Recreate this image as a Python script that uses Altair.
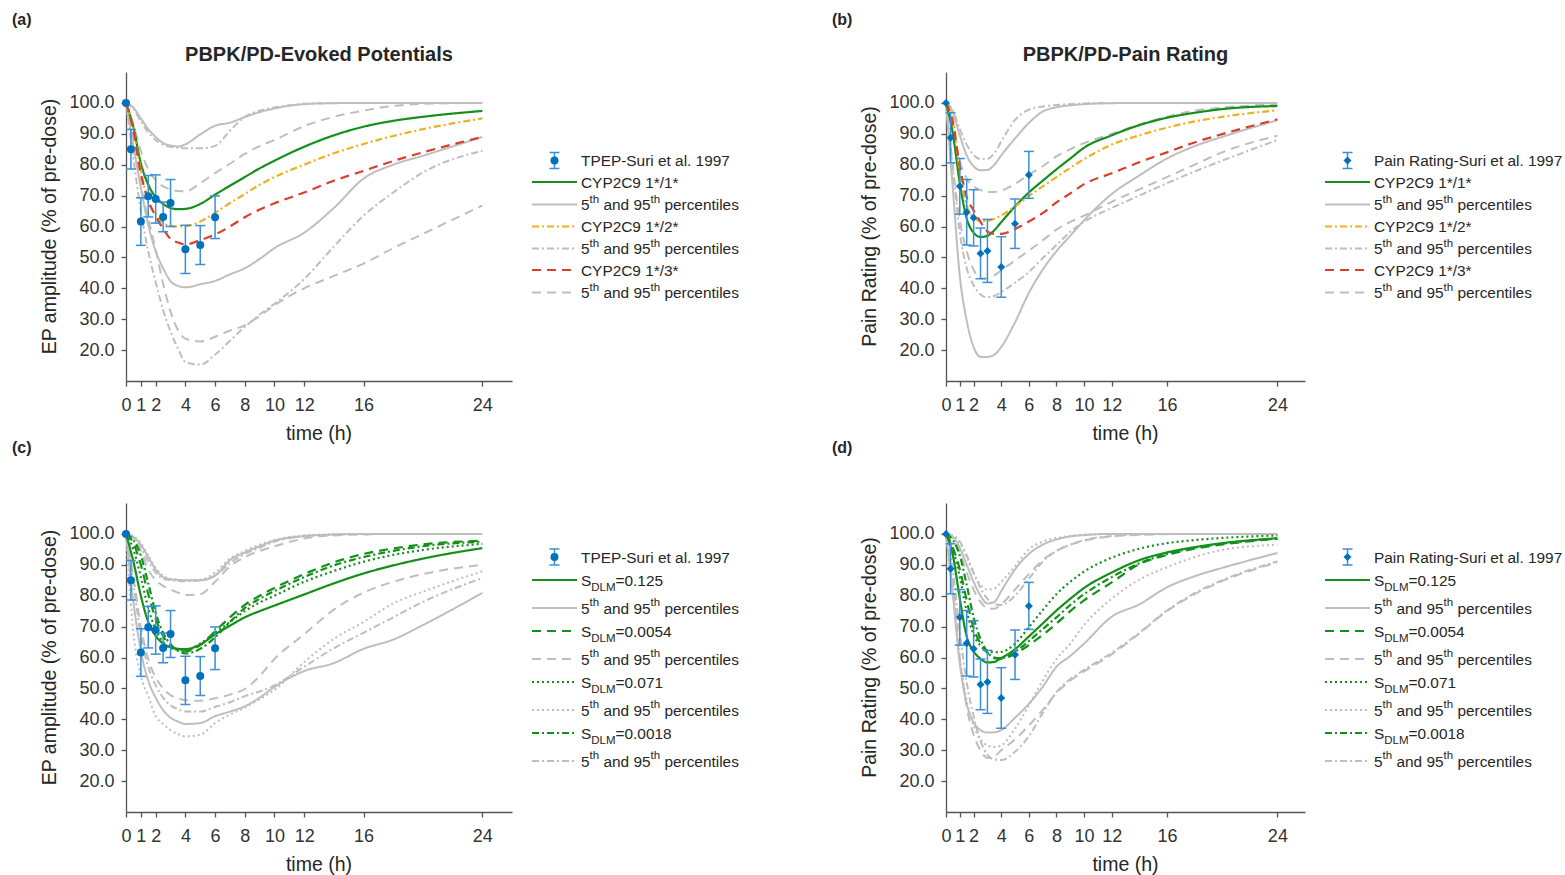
import altair as alt
import pandas as pd

FONT = "Liberation Sans"
GREEN = "#14901a"
YELLOW = "#EDB120"
RED = "#D6402D"
BLUE = "#0072BD"
EBLUE = "#3b8fd8"
GRAY = "#BEBEBE"
AXC = "#555555"
TXT = "#262626"

# ---------------- data ----------------
T = [0, 0.5, 1, 1.5, 2, 2.5, 3, 3.5, 4, 5, 6, 7, 8, 9, 10, 12, 14, 16, 18, 20, 24]

# (a) EP amplitude, CYP2C9 genotypes
a_wt = [100, 92, 80.5, 73.5, 69.5, 67.3, 66, 65.6, 65.7, 67.3, 70.3, 73.2, 76, 78.8, 81.3, 85.8, 89.5, 92.3, 94.2, 95.5, 97.4]
a_wt_hi = [100, 98.5, 95, 91.5, 89, 87, 86.2, 85.9, 86.6, 89.8, 92.6, 93.6, 95.4, 97, 98.2, 99.6, 99.9, 100, 100, 100, 100]
a_wt_lo = [100, 86, 72.5, 60.5, 52, 46.5, 42.3, 40.8, 40.3, 41.3, 42.4, 44.5, 46.5, 49.5, 53, 58, 66, 75.5, 80, 82.9, 89]
a_v2 = [100, 91, 78, 68, 64, 61.2, 60.2, 60, 60.1, 61.6, 64.4, 67.6, 70.5, 73.5, 76, 80, 83.7, 86.7, 89.3, 91.5, 95]
a_v2_hi = [100, 98, 94, 90.5, 88, 86.5, 85.8, 85.5, 85.3, 85.3, 86.1, 91, 95.5, 97.5, 98.5, 99.7, 100, 100, 100, 100, 100]
a_v2_lo = [100, 82, 65, 52, 42, 33, 26, 20.5, 16.2, 15.3, 18.5, 23, 27.5, 31.5, 35, 43, 53.5, 63.5, 71, 77.5, 84.5]
a_v3 = [100, 91, 77, 68.5, 63.3, 59.3, 56, 54.8, 54.2, 55.6, 57.4, 60, 63, 65.5, 67.5, 71, 74.8, 78, 81.2, 84, 89]
a_v3_hi = [100, 93, 84.5, 78.5, 75, 73, 72, 71.5, 71.4, 74, 77.3, 80.3, 83.5, 86, 88, 92.5, 95.5, 97.5, 99, 99.7, 100]
a_v3_lo = [100, 89, 73.5, 62.5, 52.6, 41.5, 32.5, 26.5, 23.7, 22.8, 24.3, 26.3, 28, 31, 34.5, 40, 44, 48, 53, 57.6, 66.8]

# (b) pain rating, CYP2C9 genotypes
b_wt = [100, 90, 74, 62.6, 58, 56.6, 57, 58.8, 61.4, 66.5, 71, 74.8, 78.5, 82, 85.5, 89.5, 92.8, 95.2, 96.8, 98, 99]
b_wt_hi = [100, 97, 89.5, 83, 79.5, 78.2, 78.3, 80, 83, 88.5, 93.5, 97.2, 98.6, 99.2, 99.6, 99.9, 100, 100, 100, 100, 100]
b_wt_lo = [100, 72, 44, 29.5, 21, 17.8, 17.8, 18.5, 21, 29, 38.5, 46, 52, 57, 62, 70.5, 76.5, 82, 86, 89, 94.4]
b_v2 = [100, 95, 77.5, 66.8, 63, 61.8, 61.8, 62.5, 63.6, 66.5, 69.8, 73, 76, 79, 81.8, 86.5, 89.5, 92, 94, 95.5, 97.6]
b_v2_hi = [100, 97.5, 91.5, 86.5, 83.2, 81.8, 81.9, 83.7, 87.5, 94.5, 97.8, 98.8, 99.3, 99.6, 99.8, 100, 100, 100, 100, 100, 100]
b_v2_lo = [100, 79, 58, 46.5, 41, 38, 37.1, 37.5, 38.8, 41.8, 45.3, 49.7, 54, 58.3, 61.5, 66, 70, 74, 77.8, 81.3, 88]
b_v3 = [100, 93.5, 79.5, 69.5, 65.2, 61.5, 58.4, 57.6, 57.6, 59.2, 61.6, 64.3, 67.8, 70.7, 73.7, 77.2, 80.8, 84, 87.2, 89.9, 94.7]
b_v3_hi = [100, 91, 81, 75.5, 73, 71.8, 71.2, 71.2, 71.6, 73.8, 76.8, 79.5, 82.7, 85, 87, 90, 93, 95.5, 97.5, 98.5, 99.5]
b_v3_lo = [100, 79, 62, 52, 46, 43.2, 43.2, 44.2, 45.8, 49, 52.2, 55.5, 59, 61.5, 63.5, 68, 72, 76, 80, 84, 89.4]

# (c) EP amplitude, S_DLM scenarios
c_s1 = [100, 91, 80, 71.5, 67, 64.5, 63.3, 62.8, 62.7, 64.2, 67.5, 70.3, 73, 75, 76.8, 80.4, 84, 87.2, 89.8, 92, 95.4]
c_s1_hi = [100, 99, 96.5, 92.5, 88.5, 86, 85.3, 85.1, 85, 85, 86.5, 91.5, 94, 96, 97.8, 99.3, 99.8, 100, 100, 100, 100]
c_s1_lo = [100, 78, 62, 52.5, 47, 43, 40.5, 39.3, 38.5, 38.8, 41, 42.5, 44.2, 47, 50.5, 55.6, 58.2, 62.8, 65.8, 70.5, 80.9]
c_s2 = [100, 97, 90, 80.5, 72.5, 67, 63.8, 62.5, 62, 64, 68.5, 73, 77, 80, 82.5, 87, 90.8, 93.5, 95.3, 96.6, 97.8]
c_s2_hi = [100, 98.5, 94.5, 88.5, 85, 83.2, 82, 81, 80.2, 80.5, 84.5, 89.5, 92.5, 94.5, 96, 98.5, 99.5, 99.8, 100, 100, 100]
c_s2_lo = [100, 86, 70, 59.5, 53.5, 50, 47.8, 46.8, 46.2, 46, 46.8, 48, 49.8, 54, 59.5, 67.5, 75.5, 81, 84.5, 87, 90]
c_s3 = [100, 95, 86, 76, 69, 65, 63, 62.5, 62.3, 64.5, 68, 71.5, 75, 77.8, 80, 84.5, 88, 91, 93.2, 94.8, 96.8]
c_s3_hi = [100, 99.3, 97, 93, 89, 86.5, 85.5, 85.2, 85, 85.2, 87.5, 92, 94.5, 96.5, 98, 99.5, 99.9, 100, 100, 100, 100]
c_s3_lo = [100, 68, 54, 47.5, 41, 38.5, 36.5, 35.2, 34.5, 35, 38.8, 41.5, 43.8, 46.5, 49.5, 58.5, 66, 71.5, 77.5, 81.3, 87.9]
c_s4 = [100, 98, 93, 84, 74.5, 68, 64.3, 62.2, 61.3, 62.8, 66.5, 71.5, 76, 79, 81.5, 86, 89.8, 92.5, 94.5, 96, 97.5]
c_s4_hi = [100, 98.8, 95.5, 91, 87.5, 85.5, 85, 84.8, 84.7, 85, 86.5, 90.5, 93.5, 95.5, 97.5, 99.2, 99.8, 100, 100, 100, 100]
c_s4_lo = [100, 84, 67, 57, 51, 47, 44.5, 43.3, 42.5, 42.5, 44, 45.5, 47.5, 49, 51, 57, 63, 68, 73, 78, 85.7]

# (d) pain rating, S_DLM scenarios
d_s1 = [100, 93, 79, 66.8, 62, 59.6, 58.4, 58.6, 59.8, 62.7, 66.8, 71, 75.2, 79, 82.5, 87.5, 91.5, 94, 95.7, 97, 98.6]
d_s1_hi = [100, 99, 95.5, 90, 84.5, 80, 77.5, 78, 81.5, 88.5, 93.5, 96.5, 98.2, 99.2, 99.6, 100, 100, 100, 100, 100, 100]
d_s1_lo = [100, 80, 58, 45, 39, 36.5, 35.7, 35.8, 36.5, 40.5, 45, 50.5, 57, 60.5, 64.5, 73.2, 77.2, 82.7, 86.3, 89, 93.8]
d_s2 = [100, 95.5, 88.5, 78.5, 69.5, 64.5, 61.5, 59.8, 59.6, 61.2, 64, 67.3, 71, 75, 78.5, 84.3, 90.2, 93.2, 95.2, 96.6, 98.4]
d_s2_hi = [100, 98.5, 94, 87.5, 82, 78, 76, 75.8, 77.2, 82, 87, 91.5, 94.5, 96.5, 97.8, 99.2, 99.7, 99.9, 100, 100, 100]
d_s2_lo = [100, 84, 60, 44, 35, 30, 27.5, 28, 30, 33.5, 38, 43, 48.5, 52.5, 55.5, 61, 67.8, 75, 80.5, 84.7, 90.8]
d_s3 = [100, 95, 86, 75, 67.5, 63.8, 62.2, 61.7, 61.8, 64.5, 69.8, 75.3, 80.5, 84.5, 87.8, 92.3, 95.2, 97, 98, 98.7, 99.5]
d_s3_hi = [100, 99.5, 97, 92.5, 87, 83.5, 82, 82.3, 84.5, 89.5, 95, 97.5, 98.7, 99.3, 99.8, 100, 100, 100, 100, 100, 100]
d_s3_lo = [100, 82, 60, 46, 38, 33.5, 31.5, 31, 31.5, 37, 44.5, 52.5, 59.5, 64.5, 70.5, 79, 85.2, 89.2, 92.5, 94.8, 96.5]
d_s4 = [100, 98, 93, 83.5, 73, 66, 61.8, 60, 59.8, 61.8, 65.3, 69.2, 73, 77, 80.5, 86, 90.5, 93.5, 95.5, 96.8, 98.5]
d_s4_hi = [100, 99.5, 97.5, 93, 87.5, 82.5, 79, 77.2, 77, 80, 85.5, 91, 94.5, 96.5, 98, 99.3, 99.8, 100, 100, 100, 100]
d_s4_lo = [100, 88, 68, 52, 41, 33, 28.5, 27, 26.8, 29.5, 34.5, 42, 48.8, 53, 56, 61.5, 68, 75.2, 80.8, 85, 91.1]

# observed data (Suri et al. 1997)
obs_t = [0, 0.33, 1, 1.5, 2, 2.5, 3, 4, 5, 6]
ep_mean = [100, 85, 61.6, 69.8, 68.9, 63.1, 67.6, 52.6, 54, 63]
ep_err = [0, 6.4, 7.7, 6.7, 7.8, 4.8, 7.6, 7.8, 6.3, 6.9]
pain_mean = [100, 88.7, 73, 64.6, 62.8, 51.3, 52.1, 46.9, 60.9, 76.7]
pain_err = [0, 8.1, 9, 10.6, 9.1, 8.2, 10.2, 9.8, 8, 7.6]

X_TICKS = [0, 1, 2, 4, 6, 8, 10, 12, 16, 24]
Y_TICKS = [20, 30, 40, 50, 60, 70, 80, 90, 100]

DASH = {"solid": [1, 0], "dashed": [9, 6], "dashdot": [7, 3, 2, 3], "dotted": [2, 3]}

# ---------------- series styles (one global mapping, shared by all panels) ----------------
GENO_COL = [("wt", GREEN, "solid"), ("v2", YELLOW, "dashdot"), ("v3", RED, "dashed")]
GENO_GRAY = [("wt_hi", "solid"), ("wt_lo", "solid"), ("v2_hi", "dashdot"), ("v2_lo", "dashdot"),
             ("v3_hi", "dashed"), ("v3_lo", "dashed")]
S_COL = [("s1", GREEN, "solid"), ("s2", GREEN, "dashed"), ("s3", GREEN, "dotted"), ("s4", GREEN, "dashdot")]
S_GRAY = [(f"s{i}_{k}", d) for i, d in [(1, "solid"), (2, "dashed"), (3, "dotted"), (4, "dashdot")]
          for k in ("hi", "lo")]

PANEL_SETS = {"a": (GENO_COL, GENO_GRAY), "b": (GENO_COL, GENO_GRAY),
              "c": (S_COL, S_GRAY), "d": (S_COL, S_GRAY)}
COLOR_MAP, DASH_MAP = {}, {}
for p, (cols, grays) in PANEL_SETS.items():
    for n, c, d in cols:
        COLOR_MAP[f"{p}_{n}"] = c
        DASH_MAP[f"{p}_{n}"] = DASH[d]
    for n, d in grays:
        COLOR_MAP[f"{p}_{n}"] = GRAY
        DASH_MAP[f"{p}_{n}"] = DASH[d]
ALL_NAMES = list(COLOR_MAP.keys())
COLOR_SCALE = alt.Scale(domain=ALL_NAMES, range=[COLOR_MAP[n] for n in ALL_NAMES])
DASH_SCALE = alt.Scale(domain=ALL_NAMES, range=[DASH_MAP[n] for n in ALL_NAMES])

# ---------------- helpers ----------------
ONE = pd.DataFrame({"k": [0]})
CW = {' ': 278, 'a': 556, 'n': 556, 'd': 556, 'p': 556, 'e': 556, 'r': 333, 'c': 500,
      't': 278, 'i': 222, 'l': 222, 's': 500, 'h': 556, 'S': 667, 'D': 722, 'L': 556,
      'M': 833, '=': 584, '.': 278}
LEG = 15.4
SUP = 11.5


def tw(s, size):
    return sum(CW.get(c, 556) for c in s) * size / 1000.0


def txt(x, y, s, size=LEG, weight="normal", align="left", baseline="alphabetic", angle=0, color=TXT):
    kw = dict(text=s, fontSize=size, fontWeight=weight, align=align, baseline=baseline,
              color=color, font=FONT)
    if angle:
        kw["angle"] = angle
    return alt.Chart(ONE).mark_text(**kw).encode(x=alt.value(x), y=alt.value(y))


def runs(x, yb, parts):
    out = []
    for s, mode in parts:
        size = LEG if mode == "n" else SUP
        by = yb if mode == "n" else (yb - 7.5 if mode == "sup" else yb + 5)
        stripped = s.lstrip(" ")
        lead = tw(s[: len(s) - len(stripped)], size)
        out.append(txt(x + lead, by, stripped, size=size))
        x += tw(s, size)
    return out


def hline(x0, x1, y, color, dash, width=2):
    return alt.Chart(ONE).mark_rule(color=color, strokeWidth=width, strokeDash=DASH[dash]).encode(
        x=alt.value(x0), x2=alt.value(x1), y=alt.value(y))


def vline(x, y0, y1, color, width=1.5):
    return alt.Chart(ONE).mark_rule(color=color, strokeWidth=width).encode(
        x=alt.value(x), y=alt.value(y0), y2=alt.value(y1))


def legend_layers(xl0, xl1, xt, rows, items, shape):
    layers = []
    for y, item in zip(rows, items):
        yb = y + 5.5
        if item[0] == "obs":
            xc = (xl0 + xl1) / 2
            layers += [vline(xc, y - 8, y + 8, EBLUE),
                       hline(xc - 5, xc + 5, y - 8, EBLUE, "solid", 1.5),
                       hline(xc - 5, xc + 5, y + 8, EBLUE, "solid", 1.5),
                       alt.Chart(ONE).mark_point(shape=shape, filled=True, size=64, color=BLUE, opacity=1)
                       .encode(x=alt.value(xc), y=alt.value(y))]
            layers += runs(xt, yb, [(item[1], "n")])
        else:
            _, color, dash, label = item
            layers.append(hline(xl0, xl1, y, color, dash))
            if label == "PCT":
                layers += runs(xt, yb, [("5", "n"), ("th", "sup"), (" and 95", "n"), ("th", "sup"),
                                        (" percentiles", "n")])
            elif label.startswith("S="):
                layers += runs(xt, yb, [("S", "n"), ("DLM", "sub"), ("=" + label[2:], "n")])
            else:
                layers += runs(xt, yb, [(label, "n")])
    return layers


def long_df(prefix, names, data):
    rows = []
    for n in names:
        for t, v in zip(T, data[n]):
            rows.append({"t": t, "v": v, "s": f"{prefix}_{n}"})
    return pd.DataFrame(rows)


def make_panel(prefix, W, H, data, obs_v, obs_e, shape, ytitle, title, tag, tag_y,
               legend, xl0, xl1, xt, rows, anchor=False):
    colored, grays = PANEL_SETS[prefix]
    xsc = alt.Scale(domain=[0, 26], nice=False, zero=False)
    ysc = alt.Scale(domain=[10, 110], nice=False, zero=False)
    xax = alt.Axis(values=X_TICKS, title=None)
    yax = alt.Axis(values=Y_TICKS, format=".1f", title=None)
    X = alt.X("t:Q", scale=xsc, axis=xax)

    def line_layer(names, width):
        df = long_df(prefix, names, data)
        return alt.Chart(df).mark_line(strokeWidth=width, interpolate="monotone").encode(
            x=X, y=alt.Y("v:Q", scale=ysc, axis=yax), detail="s:N",
            color=alt.Color("s:N", scale=COLOR_SCALE, legend=None),
            strokeDash=alt.StrokeDash("s:N", scale=DASH_SCALE, legend=None))

    gray_layer = line_layer([g[0] for g in grays], 2)
    col_layer = line_layer([c[0] for c in colored], 2.2)

    odf = pd.DataFrame({"t": obs_t, "v": obs_v,
                        "lo": [m - e for m, e in zip(obs_v, obs_e)],
                        "hi": [m + e for m, e in zip(obs_v, obs_e)],
                        "e": obs_e})
    edf = odf[odf["e"] > 0]
    bars = alt.Chart(edf).mark_rule(color=EBLUE, strokeWidth=1.5).encode(
        x=X, y=alt.Y("lo:Q", scale=ysc, axis=yax), y2="hi:Q")
    cap_lo = alt.Chart(edf).mark_rule(color=EBLUE, strokeWidth=1.5, xOffset=-5, x2Offset=5).encode(
        x=X, x2="t:Q", y=alt.Y("lo:Q", scale=ysc, axis=yax))
    cap_hi = alt.Chart(edf).mark_rule(color=EBLUE, strokeWidth=1.5, xOffset=-5, x2Offset=5).encode(
        x=X, x2="t:Q", y=alt.Y("hi:Q", scale=ysc, axis=yax))
    pts = alt.Chart(odf).mark_point(shape=shape, filled=True, size=64, color=BLUE, opacity=1).encode(
        x=X, y=alt.Y("v:Q", scale=ysc, axis=yax))

    layers = [gray_layer, col_layer, bars, cap_lo, cap_hi, pts]
    layers.append(txt(-76, H / 2, ytitle, size=19.5, align="center", baseline="middle", angle=270))
    layers.append(txt(W / 2, H + 53, "time (h)", size=19.5, align="center", baseline="middle"))
    if title:
        layers.append(txt(W / 2, -17, title, size=20, weight="bold", align="center", baseline="middle"))
    layers.append(txt(-114, tag_y, tag, size=16, weight="bold", align="left", baseline="middle"))
    layers += legend_layers(xl0, xl1, xt, rows, legend, shape)
    if anchor:
        layers.append(alt.Chart(ONE).mark_rule(opacity=0, strokeWidth=1).encode(
            x=alt.value(-125.5), x2=alt.value(-125.5), y=alt.value(-71.5), y2=alt.value(-70)))
    return alt.layer(*layers).properties(width=W, height=H)


H = 309
WA, WB = 386, 359

A_DATA = dict(wt=a_wt, wt_hi=a_wt_hi, wt_lo=a_wt_lo, v2=a_v2, v2_hi=a_v2_hi, v2_lo=a_v2_lo,
              v3=a_v3, v3_hi=a_v3_hi, v3_lo=a_v3_lo)
B_DATA = dict(wt=b_wt, wt_hi=b_wt_hi, wt_lo=b_wt_lo, v2=b_v2, v2_hi=b_v2_hi, v2_lo=b_v2_lo,
              v3=b_v3, v3_hi=b_v3_hi, v3_lo=b_v3_lo)
C_DATA = dict(s1=c_s1, s1_hi=c_s1_hi, s1_lo=c_s1_lo, s2=c_s2, s2_hi=c_s2_hi, s2_lo=c_s2_lo,
              s3=c_s3, s3_hi=c_s3_hi, s3_lo=c_s3_lo, s4=c_s4, s4_hi=c_s4_hi, s4_lo=c_s4_lo)
D_DATA = dict(s1=d_s1, s1_hi=d_s1_hi, s1_lo=d_s1_lo, s2=d_s2, s2_hi=d_s2_hi, s2_lo=d_s2_lo,
              s3=d_s3, s3_hi=d_s3_hi, s3_lo=d_s3_lo, s4=d_s4, s4_hi=d_s4_hi, s4_lo=d_s4_lo)


def geno_legend(obs_label):
    return [("obs", obs_label),
            ("line", GREEN, "solid", "CYP2C9 1*/1*"), ("line", GRAY, "solid", "PCT"),
            ("line", YELLOW, "dashdot", "CYP2C9 1*/2*"), ("line", GRAY, "dashdot", "PCT"),
            ("line", RED, "dashed", "CYP2C9 1*/3*"), ("line", GRAY, "dashed", "PCT")]


def s_legend(obs_label):
    return [("obs", obs_label),
            ("line", GREEN, "solid", "S=0.125"), ("line", GRAY, "solid", "PCT"),
            ("line", GREEN, "dashed", "S=0.0054"), ("line", GRAY, "dashed", "PCT"),
            ("line", GREEN, "dotted", "S=0.071"), ("line", GRAY, "dotted", "PCT"),
            ("line", GREEN, "dashdot", "S=0.0018"), ("line", GRAY, "dashdot", "PCT")]


ROWS_AB = [88.5, 110, 132.5, 154.5, 176.5, 198, 220.5]
ROWS_CD = [54, 77, 105, 128, 156, 179, 207, 230, 258]

pa = make_panel("a", WA, H, A_DATA, ep_mean, ep_err, "circle",
                "EP amplitude (% of pre-dose)", "PBPK/PD-Evoked Potentials", "(a)", -52,
                geno_legend("TPEP-Suri et al. 1997"), 406, 451, 455, ROWS_AB, anchor=True)
pb = make_panel("b", WB, H, B_DATA, pain_mean, pain_err, "diamond",
                "Pain Rating (% of pre-dose)", "PBPK/PD-Pain Rating", "(b)", -52,
                geno_legend("Pain Rating-Suri et al. 1997"), 379, 424, 428, ROWS_AB)
pc = make_panel("c", WA, H, C_DATA, ep_mean, ep_err, "circle",
                "EP amplitude (% of pre-dose)", None, "(c)", -55,
                s_legend("TPEP-Suri et al. 1997"), 406, 451, 455, ROWS_CD)
pd_ = make_panel("d", WB, H, D_DATA, pain_mean, pain_err, "diamond",
                 "Pain Rating (% of pre-dose)", None, "(d)", -55,
                 s_legend("Pain Rating-Suri et al. 1997"), 379, 424, 428, ROWS_CD)

chart = alt.concat(pa, pb, pc, pd_, columns=2, spacing={"row": 122, "column": 434}, bounds="flush").properties(
    padding=0
).configure_view(stroke=None).configure_axis(
    domainColor=AXC, tickColor=AXC, domainWidth=1.3, tickWidth=1.3, tickSize=5, grid=False,
    labelFont=FONT, labelFontSize=18, labelColor="#333333", labelFlush=False, labelOverlap=False,
).configure_axisX(labelPadding=10).configure_axisY(labelPadding=7)

chart.save("out.html", embed_options={"renderer": "svg", "actions": False})
